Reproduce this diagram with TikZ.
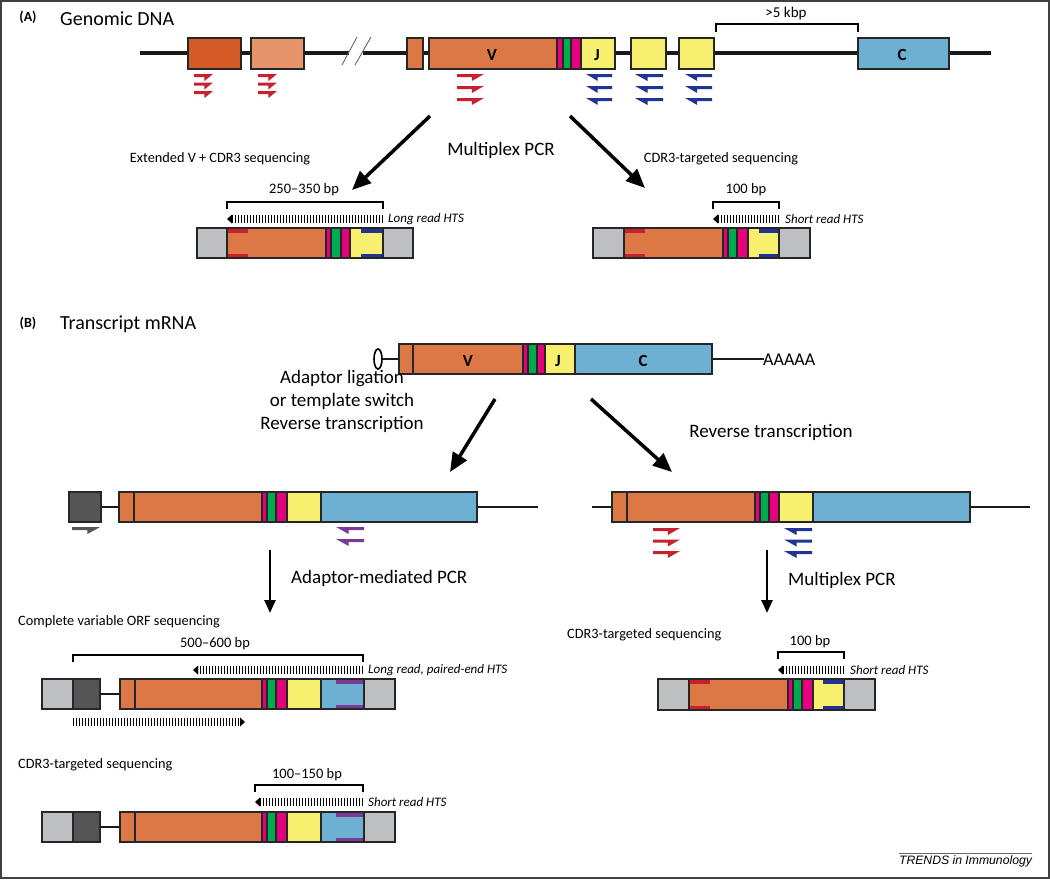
\documentclass[tikz,border=0pt]{standalone}
\usepackage{fontspec}
\setmainfont{Carlito}
\newfontfamily\arialfont{Liberation Sans}
\usetikzlibrary{arrows.meta}
\definecolor{vor}{HTML}{DC7746}
\definecolor{dor}{HTML}{D45A28}
\definecolor{lor}{HTML}{E5946B}
\definecolor{pnk}{HTML}{E6007E}
\definecolor{grn}{HTML}{00AA4F}
\definecolor{yel}{HTML}{F7F06E}
\definecolor{cbl}{HTML}{6EB0D2}
\definecolor{lgr}{HTML}{BEBFC3}
\definecolor{dgr}{HTML}{555555}
\definecolor{rpr}{HTML}{C8202F}
\definecolor{bpr}{HTML}{1F3495}
\definecolor{ppr}{HTML}{7A3A98}
\newcommand\mkseg[5]{\filldraw[fill=#5,draw=black!85,line width=1.1] (#1,#3) rectangle (#2,#4);}
\newcommand\fwdprimer[4]{\fill[#4] (#1,#2) -- (#1+#3,#2) -- (#1+0.55*#3,#2+7) -- (#1+0.55*#3,#2+3) -- (#1,#2+3) -- cycle;}
\newcommand\revprimer[4]{\fill[#4] (#1+#3,#2) -- (#1,#2) -- (#1+0.45*#3,#2+7) -- (#1+0.45*#3,#2+3) -- (#1+#3,#2+3) -- cycle;}
\newcommand\readleft[3]{\draw[line width=8,dash pattern=on 1.4 off 1.6] (#2,#3) -- (#1+5,#3); \fill (#1,#3) -- (#1+5,#3-4.5) -- (#1+5,#3+4.5) -- cycle;}
\newcommand\readright[3]{\draw[line width=8,dash pattern=on 1.4 off 1.6] (#1,#3) -- (#2-5,#3); \fill (#2,#3) -- (#2-5,#3-4.5) -- (#2-5,#3+4.5) -- cycle;}
\newcommand\bracketmark[4]{\draw[line width=1.3] (#1,#4) -- (#1,#3) -- (#2,#3) -- (#2,#4);}
\begin{document}
\begin{tikzpicture}[x=1pt,y=-1pt,
  big/.style={font=\fontsize{19}{23}\selectfont},
  sml/.style={font=\fontsize{14.3}{17}\selectfont},
  bpt/.style={font=\fontsize{14.5}{17}\selectfont},
  itl/.style={font=\fontsize{13}{16}\selectfont\itshape,anchor=west,inner sep=0pt},
  seglbl/.style={font=\fontsize{17}{19}\selectfont\bfseries},
  dna/.style={line width=4,black!90},
  rna/.style={line width=2.6,black!90},
  bigarrow/.style={line width=3.5,-{Triangle[length=19pt,width=16pt]}},
  downarrow/.style={line width=2.6,-{Triangle[length=13pt,width=11pt]}}]
\useasboundingbox (0,0) rectangle (1050,879);
\draw[line width=1.6,black!75] (1,1) rectangle (1049,878);

% ---------------- Panel A ----------------
\node[font=\fontsize{14}{16}\selectfont\bfseries] (pA) at (28,17) {(A)};
\node[font=\fontsize{20}{23}\selectfont,anchor=west,inner sep=0pt] (gdna) at (60,19) {Genomic DNA};
\draw[dna] (140,53) -- (349,53);
\draw[dna] (363,53) -- (991,53);
\draw[black!60,line width=0.9] (342,65) -- (357,37);
\draw[black!60,line width=0.9] (355,65) -- (371,37);
\mkseg{188}{241}{38}{69}{dor}
\mkseg{251}{304}{38}{69}{lor}
\mkseg{407}{423}{38}{69}{vor}
\mkseg{429}{557}{38}{69}{vor}
\mkseg{557}{581}{38}{69}{pnk}
\mkseg{563}{571}{38}{69}{grn}
\mkseg{581}{615}{38}{69}{yel}
\mkseg{631}{666}{38}{69}{yel}
\mkseg{679}{714}{38}{69}{yel}
\mkseg{858}{949}{38}{69}{cbl}
\node[seglbl] (gV) at (492,55) {V};
\node[seglbl] (gJ) at (597,55) {J};
\node[seglbl] (gC) at (902,55) {C};
\bracketmark{716}{858}{24}{32}
\node[font=\fontsize{15}{17}\selectfont] (kbp) at (786,13) {>5 kbp};
\foreach \yy in {74,82.5,91} {\fwdprimer{194}{\yy}{19}{rpr}\fwdprimer{258}{\yy}{19}{rpr}}
\foreach \yy in {74,86,98} {\fwdprimer{457}{\yy}{27}{rpr}}
\foreach \yy in {74,86,98} {\revprimer{586}{\yy}{26}{bpr}\revprimer{635}{\yy}{28}{bpr}\revprimer{685}{\yy}{27}{bpr}}

\coordinate (a1s) at (430,116); \coordinate (a1e) at (352,190);
\coordinate (a2s) at (570,116); \coordinate (a2e) at (645,188);
\draw[bigarrow] (a1s) -- (a1e);
\draw[bigarrow] (a2s) -- (a2e);
\node[big] (mpcrA) at (501,150) {Multiplex PCR};
\node[sml] (extV) at (220,159) {Extended V + CDR3 sequencing};
\node[sml] (cdrA) at (721,159) {CDR3-targeted sequencing};

% product A left
\bracketmark{227}{383}{202}{209}
\node[bpt] (l250) at (304,190) {250--350 bp};
\readleft{227}{383}{219}
\node[itl] (lrA) at (388,219) {Long read HTS};
\mkseg{197}{227}{228}{258}{lgr}
\mkseg{227}{326}{228}{258}{vor}
\mkseg{326}{350}{228}{258}{pnk}
\mkseg{331}{341}{228}{258}{grn}
\mkseg{350}{383}{228}{258}{yel}
\mkseg{383}{413}{228}{258}{lgr}
\fill[rpr] (227.6,228.6) rectangle (248,232.5); \fill[rpr] (227.6,253.5) rectangle (248,257.4);
\fill[bpr] (361,228.6) rectangle (382.4,232.5); \fill[bpr] (361,253.5) rectangle (382.4,257.4);

% product A right
\bracketmark{713}{779}{202}{209}
\node[bpt] (l100A) at (746,190) {100 bp};
\readleft{713}{779}{219}
\node[itl] (srA) at (785,219) {Short read HTS};
\mkseg{593}{624}{228}{258}{lgr}
\mkseg{624}{723}{228}{258}{vor}
\mkseg{723}{748}{228}{258}{pnk}
\mkseg{728}{737}{228}{258}{grn}
\mkseg{748}{779}{228}{258}{yel}
\mkseg{779}{810}{228}{258}{lgr}
\fill[rpr] (624.6,228.6) rectangle (645,232.5); \fill[rpr] (624.6,253.5) rectangle (645,257.4);
\fill[bpr] (759,228.6) rectangle (778.4,232.5); \fill[bpr] (759,253.5) rectangle (778.4,257.4);

% ---------------- Panel B ----------------
\node[font=\fontsize{14}{16}\selectfont\bfseries] (pB) at (28,323) {(B)};
\node[font=\fontsize{20}{23}\selectfont,anchor=west,inner sep=0pt] (tmrna) at (60,324) {Transcript mRNA};
\draw[rna] (382,359) -- (399,359);
\draw[rna] (712,359) -- (764,359);
\filldraw[fill=white,draw=black,line width=1.6] (378,359) ellipse [x radius=4, y radius=10];
\mkseg{399}{413}{344}{374}{vor}
\mkseg{413}{523}{344}{374}{vor}
\mkseg{523}{545}{344}{374}{pnk}
\mkseg{528}{537}{344}{374}{grn}
\mkseg{545}{575}{344}{374}{yel}
\mkseg{575}{712}{344}{374}{cbl}
\node[seglbl] (mV) at (468,361) {V};
\node[seglbl] (mJ) at (558,361) {J};
\node[seglbl] (mC) at (643,361) {C};
\node[font=\fontsize{18}{20}\selectfont,anchor=west,inner sep=0pt] (polyA) at (763,360) {AAAAA};

\coordinate (b1s) at (495,399); \coordinate (b1e) at (450,472);
\coordinate (b2s) at (591,399); \coordinate (b2e) at (672,472);
\draw[bigarrow] (b1s) -- (b1e);
\draw[bigarrow] (b2s) -- (b2e);
\node[big,align=center] (adlig) at (342,401) {Adaptor ligation\\or template switch\\Reverse transcription};
\node[big] (rtr) at (771,432) {Reverse transcription};

% B left construct
\draw[rna] (101,507) -- (119,507);
\draw[rna] (477,507) -- (538,507);
\mkseg{69}{101}{492}{522}{dgr}
\mkseg{119}{134}{492}{522}{vor}
\mkseg{134}{262}{492}{522}{vor}
\mkseg{262}{287}{492}{522}{pnk}
\mkseg{267}{276}{492}{522}{grn}
\mkseg{287}{321}{492}{522}{yel}
\mkseg{321}{477}{492}{522}{cbl}
\fwdprimer{72}{527}{28}{dgr}
\foreach \yy in {527,539} {\revprimer{336}{\yy}{28}{ppr}}

% B right construct
\draw[rna] (592,507) -- (612,507);
\draw[rna] (970,507) -- (1030,507);
\mkseg{612}{627}{492}{522}{vor}
\mkseg{627}{755}{492}{522}{vor}
\mkseg{755}{779}{492}{522}{pnk}
\mkseg{760}{769}{492}{522}{grn}
\mkseg{779}{813}{492}{522}{yel}
\mkseg{813}{970}{492}{522}{cbl}
\foreach \yy in {528,539.5,551} {\fwdprimer{653}{\yy}{27}{rpr}\revprimer{784}{\yy}{28}{bpr}}

\coordinate (d1s) at (270,550); \coordinate (d1e) at (270,613);
\coordinate (d2s) at (767,550); \coordinate (d2e) at (767,613);
\draw[downarrow] (d1s) -- (d1e);
\draw[downarrow] (d2s) -- (d2e);
\node[big,anchor=west,inner sep=0pt] (ampcr) at (291,578) {Adaptor-mediated PCR};
\node[big,anchor=west,inner sep=0pt] (mpcrB) at (788,580) {Multiplex PCR};

% Complete variable ORF
\node[sml,anchor=west,inner sep=0pt] (corf) at (18,622) {Complete variable ORF sequencing};
\bracketmark{73}{363}{655}{662}
\node[bpt] (l500) at (215,644) {500--600 bp};
\readleft{193}{363}{670}
\node[itl] (lrpe) at (368,670) {Long read, paired-end HTS};
\mkseg{42}{73}{679}{709}{lgr}
\mkseg{73}{100}{679}{709}{dgr}
\draw[rna] (100,694) -- (120,694);
\mkseg{120}{135}{679}{709}{vor}
\mkseg{135}{262}{679}{709}{vor}
\mkseg{262}{287}{679}{709}{pnk}
\mkseg{267}{276}{679}{709}{grn}
\mkseg{287}{321}{679}{709}{yel}
\mkseg{321}{364}{679}{709}{cbl}
\mkseg{364}{395}{679}{709}{lgr}
\fill[ppr] (336,679.6) rectangle (363.4,683.5); \fill[ppr] (336,704.5) rectangle (363.4,708.4);
\readright{73}{245}{722}

% CDR3 targeted (bottom left)
\node[sml,anchor=west,inner sep=0pt] (cdrBl) at (18,765) {CDR3-targeted sequencing};
\bracketmark{255}{363}{785}{792}
\node[bpt] (l150) at (307,775) {100--150 bp};
\readleft{255}{363}{802}
\node[itl] (srBl) at (368,802) {Short read HTS};
\mkseg{42}{73}{812}{842}{lgr}
\mkseg{73}{100}{812}{842}{dgr}
\draw[rna] (100,827) -- (120,827);
\mkseg{120}{135}{812}{842}{vor}
\mkseg{135}{262}{812}{842}{vor}
\mkseg{262}{287}{812}{842}{pnk}
\mkseg{267}{276}{812}{842}{grn}
\mkseg{287}{321}{812}{842}{yel}
\mkseg{321}{364}{812}{842}{cbl}
\mkseg{364}{395}{812}{842}{lgr}
\fill[ppr] (336,812.6) rectangle (363.4,816.5); \fill[ppr] (336,837.5) rectangle (363.4,841.4);

% CDR3 targeted (bottom right)
\node[sml,anchor=west,inner sep=0pt] (cdrBr) at (567,635) {CDR3-targeted sequencing};
\bracketmark{778}{844}{652}{659}
\node[bpt] (l100B) at (810,642) {100 bp};
\readleft{778}{844}{670}
\node[itl] (srBr) at (850,670) {Short read HTS};
\mkseg{658}{689}{679}{710}{lgr}
\mkseg{689}{788}{679}{710}{vor}
\mkseg{788}{813}{679}{710}{pnk}
\mkseg{793}{802}{679}{710}{grn}
\mkseg{813}{844}{679}{710}{yel}
\mkseg{844}{875}{679}{710}{lgr}
\fill[rpr] (689.6,679.6) rectangle (710,683.5); \fill[rpr] (689.6,705.5) rectangle (710,709.4);
\fill[bpr] (823,679.6) rectangle (843.4,683.5); \fill[bpr] (823,705.5) rectangle (843.4,709.4);

% journal mark
\draw[black!60,line width=0.8] (899,853) -- (1032,853);
\node[font=\arialfont\fontsize{12.2}{14}\selectfont\itshape,anchor=north,inner sep=0pt] (trends) at (965.5,855) {TRENDS in Immunology};
\end{tikzpicture}
\end{document}
